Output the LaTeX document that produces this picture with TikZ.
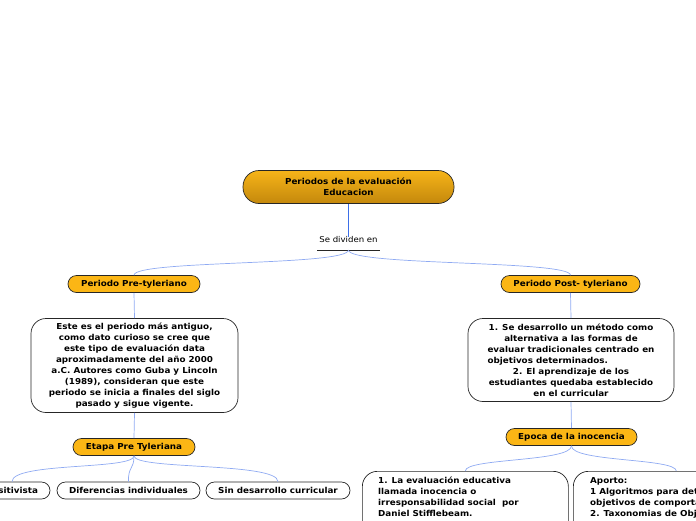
\documentclass[tikz,border=0pt]{standalone}
\usepackage{fontspec}
\usepackage{calc}
\setmainfont{DejaVu Sans}[FakeStretch=1.07]
\definecolor{pillfill}{HTML}{FBB615}
\definecolor{linkblue}{HTML}{8FAAF2}
\definecolor{rootblue}{HTML}{3D6FE8}
\definecolor{gradtop}{HTML}{F6B419}
\definecolor{gradbot}{HTML}{C4880C}
\newcommand{\bfs}{\bfseries\fontsize{8.2}{11}\selectfont}
\tikzset{
  pill/.style={draw=black!85, fill=pillfill, rounded corners=8.5pt, minimum height=17pt, inner sep=0pt, font=\bfs, line width=0.7pt},
  wpill/.style={draw=black!85, fill=white, rounded corners=8.5pt, minimum height=17pt, inner sep=0pt, font=\bfs, line width=0.7pt},
  tbox/.style={draw=black!85, fill=white, rounded corners=15pt, inner sep=0pt, font=\bfs, line width=0.7pt},
  link/.style={draw=linkblue, line width=0.7pt},
}
\begin{document}
\begin{tikzpicture}[x=1pt,y=-1pt]
\useasboundingbox (0,0) rectangle (696,520);
\begin{scope}
\clip (0,0) rectangle (696,520);
% root
\node[draw=black!85, line width=0.7pt, top color=gradtop, bottom color=gradbot, rounded corners=16pt, minimum width=211pt, minimum height=33pt, inner sep=0pt, align=center, font=\bfs] (root) at (348.5,187) {Periodos de la evaluación\\Educacion};
\node[inner sep=0pt, font=\fontsize{8}{9}\selectfont] (div) at (348.5,240) {Se dividen en};
\coordinate (ul) at (348.5,250);
\draw[black!85, line width=0.8pt] (317,250) -- (380,250);
\draw[draw=rootblue, line width=0.8pt] (root.south) -- (div.north);

\node[pill, minimum width=132pt] (pre) at (134,284) {Periodo Pre-tyleriano};
\node[pill, minimum width=139pt] (post) at (570.5,284) {Periodo Post- tyleriano};
\draw[link] (ul) .. controls (348,266) and (134,260) .. (pre.north);
\draw[link] (ul) .. controls (348,266) and (570,260) .. (post.north);

\node[tbox, minimum width=207pt, minimum height=94pt, align=center] (pretext) at (134.5,365.5) {Este es el periodo más antiguo,\\como dato curioso se cree que\\este tipo de evaluación data\\aproximadamente del año 2000\\a.C. Autores como Guba y Lincoln\\(1989), consideran que este\\periodo se inicia a finales del siglo\\pasado y sigue vigente.};
\draw[link] (pre.south) -- (pretext.north);

\node[pill, minimum width=122pt] (etapa) at (134,447) {Etapa Pre Tyleriana};
\draw[link] (pretext.south) -- (etapa.north);

\node[wpill, minimum width=76pt] (posit) at (12,490.5) {Positivista};
\node[wpill, minimum width=143pt] (dif) at (128.5,490.5) {Diferencias individuales};
\node[wpill, minimum width=144pt] (sin) at (278,490.5) {Sin desarrollo curricular};
\draw[link] (etapa.south) .. controls (134,470) and (12,462) .. (posit.north);
\draw[link] (etapa.south) .. controls (134,470) and (128,466) .. (dif.north);
\draw[link] (etapa.south) .. controls (134,470) and (278,462) .. (sin.north);

\node[tbox, minimum width=206pt, minimum height=83pt, align=center] (posttext) at (571,360) {1. Se desarrollo un método como\\alternativa a las formas de\\evaluar tradicionales centrado en\\\makebox[\widthof{evaluar tradicionales centrado en}][l]{objetivos determinados.}\\2. El aprendizaje de los\hspace{0.4em}\\estudiantes quedaba establecido\\en el curricular};
\draw[link] (post.south) -- (posttext.north);

\node[pill, minimum width=131pt] (epoca) at (571.5,437) {Epoca de la inocencia};
\draw[link] (posttext.south) -- (epoca.north);

\node[tbox, minimum width=206pt, minimum height=70pt, anchor=north west] (ino) at (362,471) {};
\node[anchor=north west, inner sep=0pt, align=left, font=\bfs] (inotext) at (378,477) {1. La evaluación educativa\\llamada inocencia o\\irresponsabilidad social\ \ por\\Daniel Stifflebeam.};
\node[tbox, minimum width=206pt, minimum height=70pt, anchor=north west] (apo) at (573,471) {};
\node[anchor=north west, inner sep=0pt, align=left, font=\bfs] (apotext) at (590,477) {Aporto:\\1 Algoritmos para determinar\\objetivos de comportamiento\\2. Taxonomias de Objetivos};
\draw[link] (epoca.south) .. controls (571,462) and (465,458) .. (ino.north);
\draw[link] (epoca.south) .. controls (571,462) and (676,458) .. (apo.north);
\end{scope}
\end{tikzpicture}
\end{document}
